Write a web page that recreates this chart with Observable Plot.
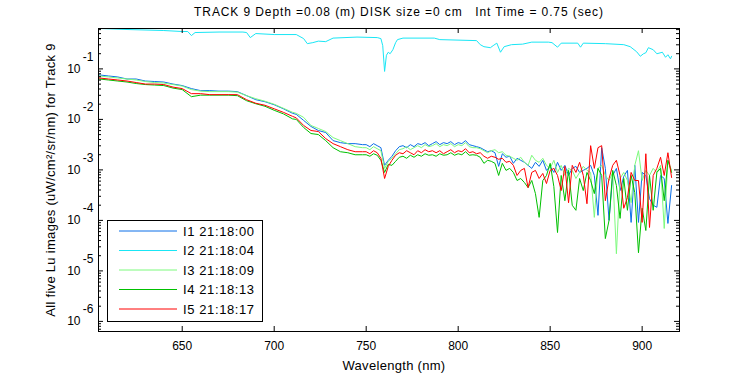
<!DOCTYPE html>
<html><head><meta charset="utf-8">
<script src="https://cdn.jsdelivr.net/npm/d3@7"></script>
<script src="https://cdn.jsdelivr.net/npm/@observablehq/plot@0.6"></script>
<style>
body{margin:0;background:#fff}
#chart{width:750px;height:375px}
</style>
</head><body><div id="chart"></div>
<script>
// Wavelength grid (nm) shared by I1, I3, I4, I5
const wavelengths = [605,610,615,620,625,630,635,640,645,650,655,660,665,670,675,680,685,690,695,700,705,710,
712,716,720,724,728,732,736,740,744,748,
750,752,754,756,758,760,762,764,766,768,770,772,774,776,778,780,782,784,786,788,
790,792,794,796,798,800,802,804,806,808,810,812,814,816,818,820,822,824,826,828,
830,832,834,836,838,840,842,844,846,848,850,852,854,856,858,860,862,864,866,868,
870,872,874,876,878,880,882,884,886,888,890,892,894,896,898,900,902,904,906,908,
910,912,914,916];

// log10 of Lu (uW/cm^2/sr/nm)
const i1Log = [-1.12,-1.14,-1.16,-1.20,-1.20,-1.24,-1.25,-1.26,-1.30,-1.33,-1.39,-1.43,-1.43,-1.44,-1.44,-1.45,-1.53,-1.61,-1.65,-1.71,-1.79,-1.88,
-1.90,-2.02,-2.14,-2.22,-2.26,-2.42,-2.46,-2.48,-2.48,-2.50,
-2.50,-2.54,-2.48,-2.52,-2.56,-2.91,-2.81,-2.73,-2.62,-2.54,
-2.52,-2.56,-2.50,-2.54,-2.48,-2.50,-2.46,-2.52,-2.48,-2.44,
-2.50,-2.46,-2.48,-2.44,-2.50,-2.46,-2.48,-2.42,-2.50,-2.52,
-2.54,-2.56,-2.60,-2.64,-2.62,-2.66,-2.93,-2.68,-2.75,-2.73,
-2.87,-2.77,-2.81,-2.85,-2.91,-2.97,-2.85,-2.93,-2.81,-3.01,
-2.93,-3.05,-2.85,-3.01,-2.91,-3.11,-2.97,-2.93,-3.05,-3.01,
-2.97,-2.91,-3.11,-3.90,-2.56,-2.97,-4.00,-3.11,-2.97,-3.41,
-3.13,-3.01,-4.04,-2.91,-4.04,-3.05,-3.11,-3.57,-3.70,-3.74,
-3.11,-3.17,-4.06,-3.31];

const i3Log = [-1.14,-1.16,-1.18,-1.20,-1.22,-1.25,-1.27,-1.28,-1.31,-1.34,-1.41,-1.44,-1.45,-1.45,-1.45,-1.46,-1.53,-1.59,-1.64,-1.70,-1.78,-1.86,
-1.88,-1.96,-2.12,-2.18,-2.24,-2.36,-2.42,-2.48,-2.54,-2.56,
-2.56,-2.60,-2.54,-2.58,-2.62,-2.97,-2.83,-2.77,-2.68,-2.60,
-2.58,-2.54,-2.60,-2.56,-2.52,-2.56,-2.50,-2.54,-2.52,-2.48,
-2.54,-2.50,-2.52,-2.48,-2.54,-2.50,-2.52,-2.46,-2.54,-2.56,
-2.56,-2.58,-2.62,-2.66,-2.62,-2.60,-2.66,-2.64,-2.71,-2.73,
-2.77,-2.81,-2.75,-2.85,-2.91,-2.71,-2.81,-2.85,-2.77,-2.91,
-2.97,-2.81,-3.05,-2.91,-3.11,-2.97,-3.01,-3.17,-3.05,-2.93,
-3.01,-3.05,-3.94,-2.97,-2.91,-3.11,-3.21,-3.05,-4.66,-3.17,
-3.05,-3.21,-3.65,-2.91,-2.62,-3.21,-3.01,-3.11,-2.97,-3.05,
-2.91,-4.16,-2.81,-3.01];

const i4Log = [-1.20,-1.22,-1.24,-1.26,-1.29,-1.31,-1.32,-1.33,-1.38,-1.41,-1.55,-1.52,-1.52,-1.52,-1.52,-1.53,-1.63,-1.69,-1.74,-1.82,-1.89,-1.99,
-2.00,-2.16,-2.28,-2.30,-2.42,-2.56,-2.64,-2.66,-2.70,-2.70,
-2.70,-2.73,-2.68,-2.71,-2.81,-3.05,-2.89,-2.91,-2.83,-2.75,
-2.73,-2.77,-2.71,-2.75,-2.70,-2.73,-2.68,-2.71,-2.70,-2.73,
-2.68,-2.71,-2.70,-2.66,-2.71,-2.68,-2.70,-2.64,-2.71,-2.70,
-2.71,-2.75,-2.87,-2.81,-2.83,-2.87,-3.11,-2.87,-3.01,-2.97,
-3.05,-3.21,-3.17,-3.25,-3.35,-3.21,-3.47,-3.94,-3.21,-3.11,
-2.87,-3.33,-4.24,-3.11,-3.61,-3.01,-3.70,-3.80,-3.17,-3.41,
-3.05,-3.21,-3.47,-2.97,-3.11,-4.36,-4.00,-3.01,-3.31,-3.96,
-3.17,-3.80,-3.11,-3.45,-4.64,-3.76,-4.20,-3.11,-3.80,-3.05,
-2.97,-3.61,-2.81,-3.05];

const i5Log = [-1.18,-1.20,-1.22,-1.24,-1.27,-1.30,-1.30,-1.31,-1.36,-1.39,-1.49,-1.49,-1.51,-1.51,-1.51,-1.51,-1.61,-1.68,-1.72,-1.79,-1.86,-1.94,
-1.97,-2.12,-2.22,-2.24,-2.38,-2.48,-2.54,-2.60,-2.64,-2.64,
-2.64,-2.68,-2.62,-2.66,-2.77,-3.17,-2.93,-2.81,-2.71,-2.66,
-2.68,-2.62,-2.66,-2.70,-2.62,-2.66,-2.60,-2.64,-2.62,-2.66,
-2.62,-2.68,-2.64,-2.60,-2.66,-2.62,-2.64,-2.58,-2.66,-2.64,
-2.68,-2.66,-2.73,-2.77,-2.73,-2.75,-2.79,-2.77,-2.85,-2.83,
-2.91,-3.11,-3.01,-2.97,-3.35,-3.05,-3.01,-3.17,-3.07,-3.27,
-3.01,-2.97,-3.11,-3.41,-2.93,-3.65,-2.91,-3.05,-2.85,-3.11,
-3.67,-2.52,-2.97,-2.56,-2.52,-3.61,-3.17,-2.91,-2.81,-3.11,
-3.76,-3.55,-3.05,-3.21,-3.21,-4.04,-2.68,-4.14,-3.11,-2.97,
-2.75,-3.11,-2.66,-3.15];

// I2 (cyan) has its own sampling
const i2Wavelengths = [605,620,640,650,653,655,657,670,683,685,687,690,700,712,716,718,721,724,728,732,
745,756,758,759,760,761,762,763,764.5,766,767,770,787,790,810,812,814,817.5,819,821,
823,825,829,835,840,849,851,854,856,865,866.5,868,880,890,893.5,897,899,900.7,902,903.4,
906,908,911,912.7,914,915.4,916];
const i2Log = [-0.20,-0.22,-0.24,-0.26,-0.26,-0.34,-0.28,-0.27,-0.27,-0.28,-0.38,-0.30,-0.32,-0.32,-0.40,-0.50,-0.48,-0.45,-0.46,-0.39,
-0.37,-0.38,-0.40,-0.54,-1.05,-0.73,-0.67,-0.70,-0.62,-0.48,-0.42,-0.39,-0.39,-0.42,-0.44,-0.52,-0.56,-0.58,-0.54,-0.49,
-0.67,-0.56,-0.52,-0.51,-0.47,-0.47,-0.48,-0.57,-0.49,-0.49,-0.57,-0.49,-0.50,-0.52,-0.56,-0.66,-0.75,-0.70,-0.68,-0.58,
-0.62,-0.70,-0.67,-0.77,-0.72,-0.80,-0.75];

const seriesNames = ["I1 21:18:00","I2 21:18:04","I3 21:18:09","I4 21:18:13","I5 21:18:17"];
const seriesColors = ["#0a6fe8","#19e6f5","#7dfa7d","#00c000","#ff0000"];
const xTicks = [650,700,750,800,850,900];
const yExponents = [-1,-2,-3,-4,-5,-6];
const titleText = "TRACK 9 Depth =0.08 (m) DISK size =0 cm\u00a0\u00a0\u00a0Int Time = 0.75 (sec)";
const xLabel = "Wavelength (nm)";
const yLabel = "All five Lu images (uW/cm\u00b2/sr/nm) for Track 9";

const W = 750, H = 375, mL = 98, mR = 71, mT = 28, mB = 44;
const fw = W - mL - mR, fh = H - mT - mB;

const toRows = (wl, logs) => wl.map((w, i) => ({wl: w, v: Math.pow(10, logs[i])}));
const allSeries = [
  toRows(wavelengths, i1Log),
  toRows(i2Wavelengths, i2Log),
  toRows(wavelengths, i3Log),
  toRows(wavelengths, i4Log),
  toRows(wavelengths, i5Log)
];

const yDomain = [Math.pow(10, -6.2), Math.pow(10, -0.2)];
const yAll = d3.scaleLog().domain(yDomain).ticks().filter(v => v >= yDomain[0] && v <= yDomain[1]);
const yMajor = yExponents.map(e => Math.pow(10, e));
const yMinor = yAll.filter(v => !yMajor.some(m => Math.abs(m - v) / m < 1e-6));

const svg = Plot.plot({
  width: W, height: H,
  marginLeft: mL, marginRight: mR, marginTop: mT, marginBottom: mB,
  x: {domain: [604.5, 920.3], axis: null},
  y: {type: "log", domain: yDomain, axis: null},
  style: {fontFamily: "'Liberation Sans', Arial, sans-serif", fontSize: "12px", background: "white", color: "black", overflow: "visible"},
  marks: [
    ...allSeries.map((rows, k) => Plot.line(rows, {x: "wl", y: "v", stroke: seriesColors[k], strokeWidth: 1, clip: true})),
    Plot.frame({stroke: "black", strokeWidth: 1}),
    // inward ticks on all four sides
    Plot.tickY(yMajor, {y: d => d, insetRight: fw - 5, stroke: "black"}),
    Plot.tickY(yMajor, {y: d => d, insetLeft: fw - 5, stroke: "black"}),
    Plot.tickY(yMinor, {y: d => d, insetRight: fw - 3, stroke: "black"}),
    Plot.tickY(yMinor, {y: d => d, insetLeft: fw - 3, stroke: "black"}),
    Plot.tickX(xTicks, {x: d => d, insetTop: fh - 5, stroke: "black"}),
    Plot.tickX(xTicks, {x: d => d, insetBottom: fh - 5, stroke: "black"}),
    // tick labels
    Plot.text(xTicks, {x: d => d, text: d => String(d), frameAnchor: "bottom", lineAnchor: "middle", dy: 15, fontSize: 12}),
    Plot.text(yExponents, {y: d => Math.pow(10, d), text: () => "10", frameAnchor: "left", textAnchor: "end", lineAnchor: "middle", dx: -18, fontSize: 12}),
    Plot.text(yExponents, {y: d => Math.pow(10, d), text: d => String(d), frameAnchor: "left", textAnchor: "end", lineAnchor: "middle", dx: -5, dy: -12, fontSize: 12}),
    // titles
    Plot.text([titleText], {text: d => d, frameAnchor: "top", textAnchor: "middle", lineAnchor: "middle", dy: -16, dx: 10, fontSize: 12}),
    Plot.text([xLabel], {text: d => d, frameAnchor: "bottom", textAnchor: "middle", lineAnchor: "middle", dy: 34, dx: 5, fontSize: 13}),
    Plot.text([yLabel], {text: d => d, frameAnchor: "left", textAnchor: "middle", lineAnchor: "middle", rotate: -90, dx: -48, fontSize: 13})
  ]
});

// letter spacing to mimic the wider original font
d3.select(svg).selectAll("text").each(function() {
  const t = this.textContent;
  if (t === titleText) this.setAttribute("letter-spacing", "0.9px");
  else if (t === xLabel || t === yLabel) this.setAttribute("letter-spacing", "0.3px");
});

// legend box inside the axes (lower left)
const lg = d3.select(svg).append("g").attr("text-anchor", "start");
const lx = 107.5, ly = 220.5, lw = 155, lh = 101;
lg.append("rect").attr("x", lx).attr("y", ly).attr("width", lw).attr("height", lh)
  .attr("fill", "white").attr("stroke", "black");
seriesNames.forEach((name, k) => {
  const yy = 231 + k * 19.5;
  lg.append("line").attr("x1", 119).attr("x2", 177).attr("y1", yy).attr("y2", yy)
    .attr("stroke", seriesColors[k]).attr("stroke-width", 1);
  lg.append("text").attr("x", 183).attr("y", yy).attr("dy", "0.35em")
    .attr("text-anchor", "start").attr("font-size", 13).attr("letter-spacing", "0.6px")
    .attr("fill", "black").text(name);
});

document.getElementById("chart").appendChild(svg);
</script>
</body></html>
